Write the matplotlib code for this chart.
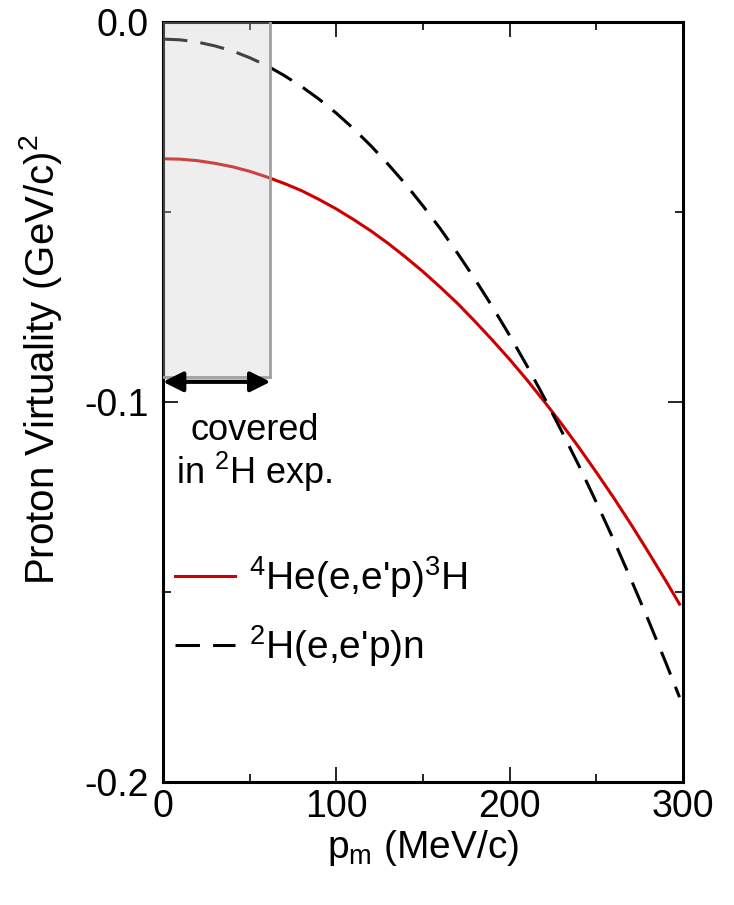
import matplotlib
matplotlib.use("Agg")
import matplotlib.pyplot as plt
from matplotlib.patches import Rectangle
from matplotlib.ticker import MultipleLocator, FormatStrFormatter

plt.rcParams['font.family'] = ['Liberation Sans', 'DejaVu Sans']
plt.rcParams['mathtext.fontset'] = 'custom'
plt.rcParams['mathtext.rm'] = 'Liberation Sans'
plt.rcParams['axes.unicode_minus'] = False

# missing momentum (MeV/c)
pm = [0, 10, 20, 30, 40, 50, 60, 70, 80, 90, 100, 110, 120, 130, 140, 150,
      160, 170, 180, 190, 200, 210, 220, 230, 240, 250, 260, 270, 280, 290, 298]

# proton virtuality (GeV/c)^2
v_he4 = [-0.0360, -0.0361, -0.0365, -0.0372, -0.0381, -0.0393, -0.0408, -0.0425,
         -0.0444, -0.0467, -0.0492, -0.0520, -0.0550, -0.0583, -0.0619, -0.0657,
         -0.0698, -0.0741, -0.0788, -0.0837, -0.0888, -0.0942, -0.0999, -0.1058,
         -0.1120, -0.1185, -0.1252, -0.1322, -0.1395, -0.1470, -0.1532]
v_d2 = [-0.0045, -0.0047, -0.0053, -0.0063, -0.0076, -0.0094, -0.0115, -0.0141,
        -0.0170, -0.0203, -0.0240, -0.0281, -0.0326, -0.0375, -0.0427, -0.0484,
        -0.0544, -0.0609, -0.0677, -0.0749, -0.0825, -0.0905, -0.0989, -0.1077,
        -0.1168, -0.1264, -0.1363, -0.1467, -0.1574, -0.1685, -0.1777]

# region covered in the deuteron experiment
covered_pm = (0, 62)
covered_v = -0.0935

fig = plt.figure(figsize=(7.34, 9.05), dpi=100)
ax = fig.add_axes([0.222, 0.136, 0.7085, 0.8397])

ax.plot(pm, v_he4, color='#cc0000', lw=2.2, label='$^\\mathregular{4}$He(e,e\'p)$^\\mathregular{3}$H')
ax.plot(pm, v_d2, color='black', lw=2.2, dashes=(8, 4.3), label='$^\\mathregular{2}$H(e,e\'p)n')

# shaded box on top of the curves
ax.add_patch(Rectangle((covered_pm[0], covered_v), covered_pm[1] - covered_pm[0], -covered_v,
                       facecolor='#cccccc', alpha=0.33, edgecolor='none', zorder=3))
ax.plot([covered_pm[1], covered_pm[1]], [covered_v, 0], color='#a0a0a0', lw=2, zorder=3.5)
ax.plot([covered_pm[0], covered_pm[1]], [covered_v, covered_v], color='#a0a0a0', lw=2, zorder=3.5)
ax.annotate('', xy=(covered_pm[0], covered_v - 0.0012), xytext=(covered_pm[1], covered_v - 0.0012),
            arrowprops=dict(arrowstyle='<|-|>', color='black', lw=3, mutation_scale=30,
                            shrinkA=0, shrinkB=0), zorder=4)
ax.text(53, -0.1135, 'covered\nin $^\\mathregular{2}$H exp.', ha='center', va='center',
        fontsize=26, linespacing=1.05)

ax.set_xlim(0, 300)
ax.set_ylim(-0.2, 0.0)
ax.xaxis.set_major_locator(MultipleLocator(100))
ax.xaxis.set_minor_locator(MultipleLocator(50))
ax.yaxis.set_major_locator(MultipleLocator(0.1))
ax.yaxis.set_minor_locator(MultipleLocator(0.05))
ax.yaxis.set_major_formatter(FormatStrFormatter('%.1f'))
ax.tick_params(which='both', direction='in', top=True, right=True, labelsize=27)
ax.tick_params(which='major', length=11, width=1.2, pad=10)
ax.tick_params(axis='x', which='major', pad=5)
ax.tick_params(which='minor', length=6, width=1.2)
for s in ax.spines.values():
    s.set_linewidth(2.2)

ax.set_xlabel('p$_\\mathregular{m}$ (MeV/c)', fontsize=28, labelpad=2)
ax.set_ylabel('Proton Virtuality (GeV/c)$^\\mathregular{2}$', fontsize=29)
ax.yaxis.set_label_coords(-0.19, 0.555)

ax.legend(loc='upper left', bbox_to_anchor=(0.023, 0.30), frameon=False, fontsize=28,
          handlelength=1.55, handletextpad=0.35, labelspacing=0.6, borderaxespad=0,
          borderpad=0)

fig.savefig('out.png', dpi=100, facecolor='white')
